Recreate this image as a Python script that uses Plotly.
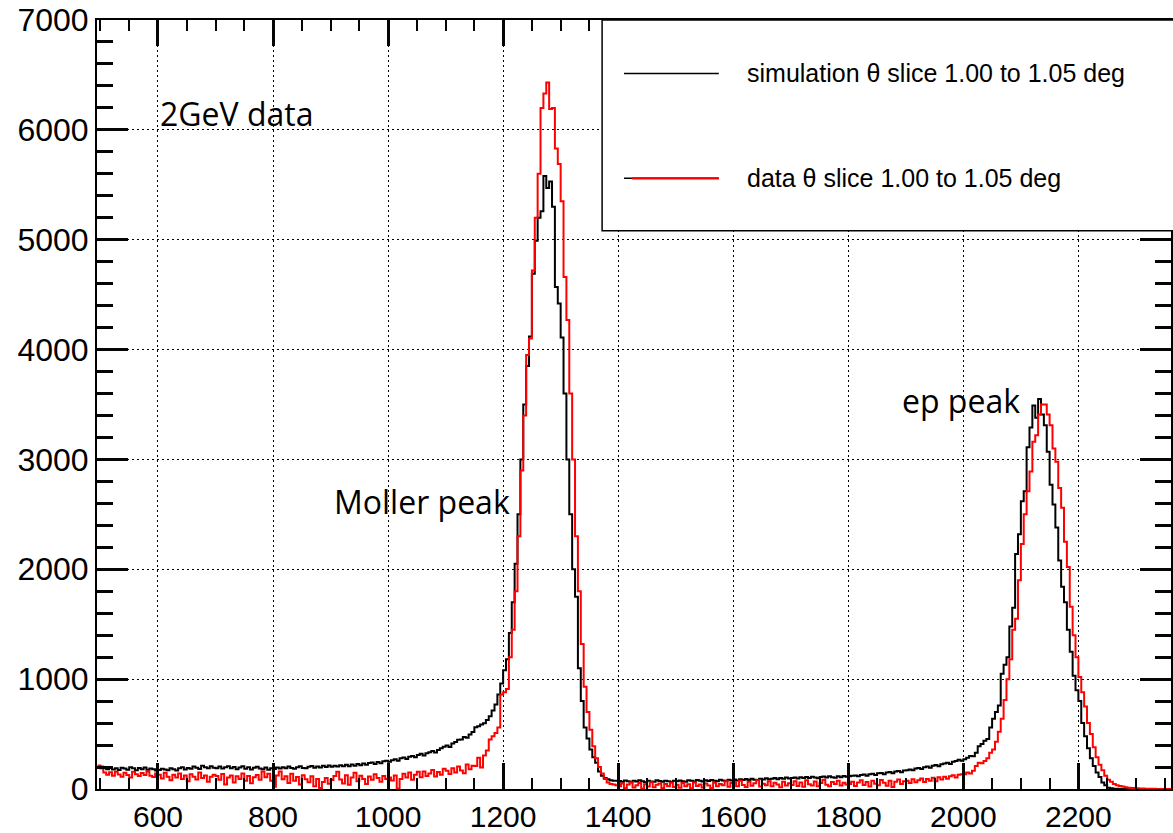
import numpy as np
import plotly.graph_objects as go

bin_start = 495
bin_width = 5

sim_counts = [
    195,
    188, 200, 180, 196, 178, 190, 172, 193, 186, 176, 198, 188, 170, 192, 180, 195, 176, 187, 179, 168,
    172, 184, 178, 170, 190, 180, 168, 188, 197, 178, 192, 184, 204, 193, 182, 212, 198, 188, 206, 194,
    190, 204, 186, 198, 208, 188, 200, 180, 196, 206, 184, 197, 178, 194, 202, 186, 180, 195, 176, 190,
    182, 195, 186, 198, 188, 204, 192, 184, 199, 206, 192, 188, 202, 210, 194, 205, 196, 212, 200, 214,
    203, 212, 204, 216, 206, 220, 208, 224, 212, 228, 216, 232, 220, 236, 242, 228, 246, 234, 252, 258,
    248, 262, 270, 258, 280, 286, 274, 294, 300, 288, 310, 320, 304, 326, 334, 346, 332, 356, 372, 384,
    396, 382, 414, 428, 448, 450, 474, 466, 496, 518, 562, 572, 586, 598, 628, 662, 715, 770, 860, 960,
    1080, 1180, 1420, 1700, 2050, 2500, 3000, 3500, 3850, 4120, 4690, 4990, 5200, 5260, 5580, 5470, 5530, 5300, 4570, 4420,
    4110, 3600, 3000, 2500, 2000, 1750, 1100, 800, 560, 460, 360, 290, 240, 160, 120, 100, 88, 80, 74, 76,
    72, 66, 78, 70, 62, 76, 68, 80, 70, 62, 75, 69, 66, 79, 72, 66, 76, 70, 64, 74,
    70, 78, 71, 66, 80, 74, 69, 82, 75, 68, 79, 72, 82, 76, 70, 84, 77, 72, 85, 78,
    86, 78, 88, 81, 90, 83, 93, 85, 82, 94, 86, 97, 88, 93, 99, 89, 101, 93, 104, 96,
    100, 104, 95, 107, 99, 109, 100, 111, 104, 97, 110, 113, 104, 116, 108, 102, 117, 108, 119, 111,
    116, 120, 124, 115, 128, 131, 121, 135, 139, 128, 143, 146, 135, 150, 154, 143, 159, 164, 152, 168,
    170, 178, 170, 186, 192, 182, 198, 204, 194, 212, 218, 208, 226, 232, 238, 228, 248, 256, 266, 258,
    270, 285, 300, 298, 330, 390, 410, 440, 455, 560, 640, 700, 760, 1050, 1130, 1200, 1480, 1650, 2140, 2320,
    2620, 2710, 3110, 3290, 3490, 3380, 3550, 3410, 3310, 3070, 2770, 2590, 2380, 2080, 1840, 1700, 1450, 1250, 1030, 900,
    800, 600, 480, 370, 280, 210, 150, 110, 60, 35, 12, 6, 3, 2, 1, 0, 0, 0, 0, 0,
    0, 0, 0, 0, 0, 0, 0, 0, 0, 0, 0, 0, 0,
]

data_counts = [
    215,
    205, 150, 130, 152, 120, 158, 132, 112, 148, 128, 105, 156, 135, 118, 146, 128, 160, 120, 110, 142,
    130, 96, 148, 112, 80, 130, 104, 142, 92, 124, 70, 134, 112, 86, 150, 100, 124, 66, 112, 130,
    118, 84, 136, 40, 104, 124, 60, 116, 90, 140, 76, 118, 52, 108, 128, 84, 160, 106, 138, 76,
    20, 124, 160, 88, 116, 55, 138, 76, 110, 42, 126, 88, 62, 116, 25, 90, 8, 64, 100, 48,
    82, 118, 156, 86, 50, 126, 38, 104, 148, 70, 120, 92, 45, 114, 84, 134, 100, 66, 118, 92,
    104, 78, 124, 5, 92, 138, 104, 150, 84, 130, 156, 106, 160, 118, 140, 172, 114, 155, 130, 185,
    165, 136, 190, 150, 205, 168, 144, 222, 180, 212, 210, 285, 196, 305, 350, 450, 480, 510, 560, 860,
    880, 910, 1200, 1450, 1800, 2300, 2900, 3400, 3950, 4100, 4720, 5200, 5600, 6200, 6330, 6430, 6190, 6200, 5830, 5690,
    5350, 4660, 4270, 3600, 3000, 2300, 1800, 1320, 930, 700, 540, 390, 280, 200, 140, 90, 60, 45, 40, 35,
    25, 50, 8, 40, 60, 14, 35, 55, 4, 44, 22, 62, 16, 38, 50, 10, 46, 26, 58, 18,
    38, 12, 55, 24, 44, 6, 60, 28, 40, 14, 50, 32, 10, 58, 24, 46, 34, 70, 20, 54,
    62, 24, 74, 36, 18, 66, 30, 52, 80, 22, 48, 34, 70, 26, 58, 40, 16, 66, 32, 52,
    36, 70, 28, 60, 20, 80, 44, 32, 68, 26, 54, 85, 38, 24, 64, 46, 74, 32, 58, 40,
    46, 66, 28, 60, 80, 36, 64, 22, 74, 48, 34, 82, 56, 30, 76, 18, 66, 86, 46, 70,
    76, 54, 88, 62, 80, 96, 64, 92, 76, 102, 70, 108, 86, 112, 94, 116, 126, 104, 130, 134,
    135, 150, 140, 165, 210, 240, 235, 255, 280, 330, 360, 430, 520, 640, 810, 1000, 1180, 1450, 1550, 1900,
    2230, 2500, 2710, 2890, 3160, 3220, 3410, 3500, 3500, 3410, 3310, 3100, 2980, 2740, 2560, 2250, 2020, 1660, 1400, 1200,
    1020, 880, 750, 600, 500, 380, 290, 220, 170, 120, 85, 65, 45, 35, 28, 22, 16, 12, 10, 8,
    6, 5, 4, 3, 3, 2, 2, 1, 1, 1, 1, 0, 0,
]

series_names = ["simulation \u03b8 slice 1.00 to 1.05 deg", "data \u03b8 slice 1.00 to 1.05 deg"]
text_labels = ["2GeV data", "Moller peak", "ep peak"]
text_pos = [(600, 6150), (903, 2620), (1890, 3540)]

edges = bin_start + bin_width * np.arange(len(sim_counts) + 1)

def step_y(counts):
    return list(counts) + [counts[-1]]

fig = go.Figure()
fig.add_trace(go.Scatter(x=edges, y=step_y(sim_counts), mode="lines", line_shape="hv",
                         line=dict(color="black", width=2), name=series_names[0], showlegend=False,
                         hoverinfo="skip"))
fig.add_trace(go.Scatter(x=edges, y=step_y(data_counts), mode="lines", line_shape="hv",
                         line=dict(color="#ff0000", width=2), name=series_names[1], showlegend=False,
                         hoverinfo="skip"))

tick_font_x = dict(family="Liberation Sans, Arial, sans-serif", size=30, color="black")
tick_font_y = dict(family="Liberation Sans, Arial, sans-serif", size=32, color="black")
ink = "#050505"

fig.update_layout(
    width=1173, height=833,
    margin=dict(l=97, r=0, t=20, b=36),
    paper_bgcolor="white", plot_bgcolor="white",
    showlegend=False,
    xaxis=dict(range=[494, 2361], showline=True, linecolor="black", linewidth=2,
               mirror="ticks", ticks="inside", ticklen=26, tickwidth=2.5, tickcolor=ink,
               tick0=0, dtick=200, showgrid=True, gridcolor="black", gridwidth=1.3,
               griddash="2px,3px", zeroline=False, tickfont=tick_font_x,
               minor=dict(tick0=0, dtick=50, ticks="inside", ticklen=11, tickwidth=1.5,
                          tickcolor=ink, showgrid=False)),
    yaxis=dict(range=[0, 7000], showline=True, linecolor="black", linewidth=2,
               mirror="ticks", ticks="inside", ticklen=31, tickwidth=2.5, tickcolor=ink,
               tick0=0, dtick=1000, showgrid=True, gridcolor="black", gridwidth=1.3,
               griddash="2px,3px", zeroline=False, tickfont=tick_font_y,
               minor=dict(tick0=0, dtick=200, ticks="inside", ticklen=16, tickwidth=2.5,
                          tickcolor=ink, showgrid=False)),
)

for label, (tx, ty) in zip(text_labels, text_pos):
    fig.add_annotation(x=tx, y=ty, xref="x", yref="y", text=label, showarrow=False,
                       xanchor="left", yanchor="middle",
                       font=dict(family="Open Sans, sans-serif", size=32, color="black"))

lx0, lx1, ly0, ly1 = 0.4703, 1.01, 0.7259, 1.0
fig.add_shape(type="rect", xref="paper", yref="paper", x0=lx0, x1=lx1, y0=ly0, y1=ly1,
              line=dict(color="black", width=1.5), fillcolor="white", layer="above")
leg_rows = [0.9305, 0.7941]
fig.add_shape(type="line", xref="paper", yref="paper", x0=0.4907, x1=0.579, y0=leg_rows[0], y1=leg_rows[0],
              line=dict(color="black", width=1.5), layer="above")
fig.add_shape(type="line", xref="paper", yref="paper", x0=0.4907, x1=0.579, y0=leg_rows[1], y1=leg_rows[1],
              line=dict(color="black", width=1.5), layer="above")
fig.add_shape(type="line", xref="paper", yref="paper", x0=0.4981, x1=0.579, y0=leg_rows[1], y1=leg_rows[1],
              line=dict(color="#ff0000", width=2.2), layer="above")
for name, ry in zip(series_names, leg_rows):
    fig.add_annotation(x=0.6032, y=ry, xref="paper", yref="paper", text=name, showarrow=False,
                       xanchor="left", yanchor="middle",
                       font=dict(family="Liberation Sans, Arial, sans-serif", size=25, color="black"))

fig.write_html("out.html")
